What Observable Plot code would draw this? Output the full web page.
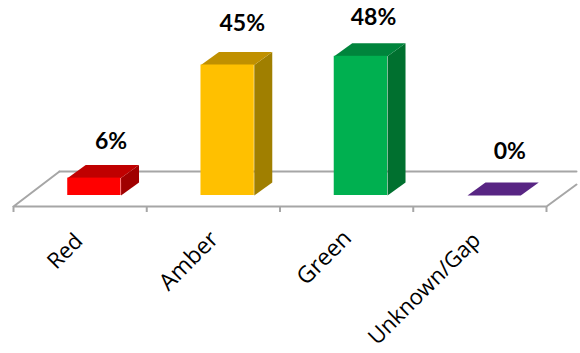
<!DOCTYPE html>
<html>
<head>
<meta charset="utf-8">
<script src="https://cdn.jsdelivr.net/npm/d3@7"></script>
<script src="https://cdn.jsdelivr.net/npm/@observablehq/plot@0.6"></script>
<style>
  html, body { margin: 0; padding: 0; background: #fff; }
  svg { display: block; }
</style>
</head>
<body>
<div id="chart"></div>
<script>
// Share of items per RAG status
const categories = ["Red", "Amber", "Green", "Unknown/Gap"];
const shares = [6, 45, 48, 0];
const frontColors = ["#ff0000", "#ffc000", "#00b050", "#582583"];
const topColors = ["#c00000", "#c09000", "#00843c", "#582583"];
const sideColors = ["#a00000", "#a07f00", "#00702f", "#582583"];

// Oblique projection of the 3D column chart, in scale units
const barStart = 0.407, barWidth = 0.4;
const depthX = 0.135, depthY = 4.48;
const floorDepthX = 0.345, floorBack = 8.28, floorFront = -3.79;
const floorClipX = 4.225, floorClipY = 3.79, tickEnd = -5.86;

// Pixel nudges for the value labels, which sit above each column
const labelNudge = [[-10, -36], [-12, -41], [-14, -39], [-11, -44]];
// Pixel nudges and sizes for the slanted category names
const nameNudge = [[-5, 10], [-3, 8], [-3, 7], [-7, 9]];
const nameSize = [22, 23, 23, 22];

const bars = categories.map((name, i) => ({
  name, i, value: shares[i],
  l: i + barStart, r: i + barStart + barWidth
}));

// Each column becomes closed polygons for its top and side faces
const faces = bars.flatMap((b) => {
  const top = [
    [b.l, b.value], [b.l + depthX, b.value + depthY],
    [b.r + depthX, b.value + depthY], [b.r, b.value]
  ];
  const side = [
    [b.r, 0], [b.r + depthX, depthY],
    [b.r + depthX, b.value + depthY], [b.r, b.value]
  ];
  return [
    ...side.map(([x, y]) => ({x, y, face: b.name + "-side", color: sideColors[b.i]})),
    ...top.map(([x, y]) => ({x, y, face: b.name + "-top", color: topColors[b.i]}))
  ];
});

const floorPath = [
  {x: floorDepthX, y: floorBack, part: "a"},
  {x: 0, y: floorFront, part: "a"},
  {x: 4, y: floorFront, part: "a"},
  {x: floorClipX, y: floorClipY, part: "a"},
  {x: floorDepthX, y: floorBack, part: "b"},
  {x: floorClipX, y: floorBack, part: "b"}
];

const chart = Plot.plot({
  width: 580,
  height: 353,
  marginLeft: 13,
  marginRight: 34,
  marginTop: 0,
  marginBottom: 0,
  x: {domain: [0, 4], axis: null},
  y: {domain: [-54.48, 67.24], axis: null},
  style: {background: "#fff", overflow: "visible"},
  marks: [
    Plot.line(floorPath, {x: "x", y: "y", z: "part", stroke: "#a6a6a6", strokeWidth: 2}),
    Plot.ruleX([0, 1, 2, 3, 4], {y1: floorFront, y2: tickEnd, stroke: "#a6a6a6", strokeWidth: 2}),
    Plot.line(faces, {x: "x", y: "y", z: "face", fill: "color", stroke: null, curve: "linear-closed"}),
    Plot.rectY(bars, {x1: "l", x2: "r", y1: 0, y2: "value", fill: (d) => frontColors[d.i], inset: 0}),
    ...bars.map((b) => Plot.text([b], {
      x: "r",
      y: "value",
      text: (d) => d.value + "%",
      dx: labelNudge[b.i][0],
      dy: labelNudge[b.i][1],
      fontFamily: "Lato",
      fontWeight: 700,
      fontSize: 23,
      fill: "#000"
    })),
    ...bars.map((b) => Plot.text([b], {
      x: (d) => d.i + 0.53,
      y: () => -11,
      text: "name",
      rotate: -45,
      textAnchor: "end",
      dx: nameNudge[b.i][0],
      dy: nameNudge[b.i][1],
      fontFamily: "Open Sans",
      fontSize: nameSize[b.i],
      fill: "#000"
    }))
  ]
});
document.getElementById("chart").append(chart);
</script>
</body>
</html>
